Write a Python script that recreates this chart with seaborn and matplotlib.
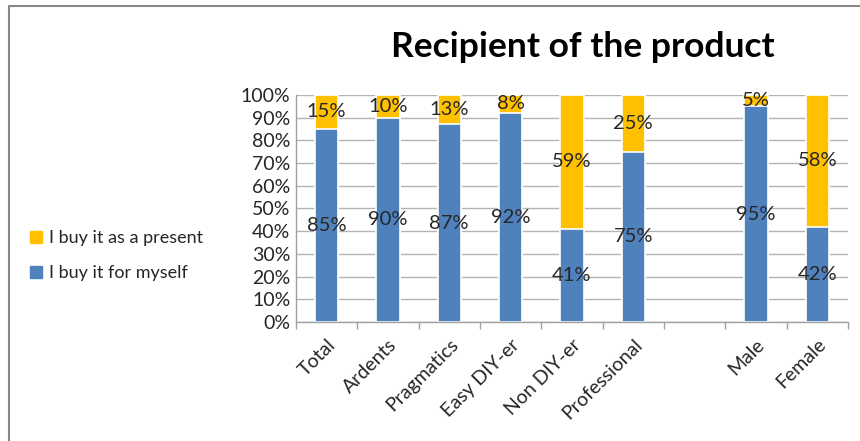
import numpy as np
import pandas as pd
import seaborn as sns
import matplotlib
matplotlib.use('Agg')
from matplotlib import pyplot as plt
from matplotlib.lines import Line2D

# Data
cats = ['Total', 'Ardents', 'Pragmatics', 'Easy DIY-er', 'Non DIY-er', 'Professional', '', 'Male', 'Female']
myself = [85, 90, 87, 92, 41, 75, None, 95, 42]
present = [15, 10, 13, 8, 59, 25, None, 5, 58]
yticks = [0, 10, 20, 30, 40, 50, 60, 70, 80, 90, 100]

blue = '#4F81BD'
yellow = '#FFC000'

df = pd.DataFrame({'cat': cats, 'myself': myself, 'present': present})
df = df[df['cat'] != ''].copy()
df['total'] = df['myself'] + df['present']

sns.set_style('white')
plt.rcParams['font.family'] = ['Lato', 'DejaVu Sans']

fig = plt.figure(figsize=(8.6, 4.41), dpi=100)
ax = fig.add_axes([0.344, 0.270, 0.642, 0.515])

sns.barplot(data=df, x='cat', y='total', order=cats, color=yellow, width=0.38,
            edgecolor='white', linewidth=1.2, saturation=1, ax=ax)
sns.barplot(data=df, x='cat', y='myself', order=cats, color=blue, width=0.38,
            edgecolor='white', linewidth=1.2, saturation=1, ax=ax)

# value labels
for i, c in enumerate(cats):
    if c == '':
        continue
    row = df[df['cat'] == c].iloc[0]
    m, p = row['myself'], row['present']
    ax.text(i, m / 2, '%d%%' % m, ha='center', va='center', fontsize=14.5, color='#262626')
    ax.text(i, m + p / 2, '%d%%' % p, ha='center', va='center', fontsize=14.5, color='#262626')

ax.set_ylim(0, 100)
ax.set_xlim(-0.5, len(cats) - 0.5)
ax.set_yticks(yticks)
ax.set_yticklabels(['%d%%' % v for v in yticks], fontsize=14, color='#262626')
ax.yaxis.grid(True, color='#b3b3b3', linewidth=1)
ax.set_axisbelow(True)
ax.tick_params(axis='y', length=0, pad=4)

ax.set_xticks(range(len(cats)))
ax.set_xticklabels(cats, rotation=45, ha='right', rotation_mode='anchor', fontsize=14, color='#262626')
ax.set_xticks(np.arange(-0.5, len(cats), 1), minor=True)
ax.tick_params(axis='x', which='major', length=0, pad=10)
ax.tick_params(axis='x', which='minor', length=5, color='#a0a0a0', width=1, direction='out', bottom=True)
ax.set_xlabel('')
ax.set_ylabel('')

for s in ['top', 'right']:
    ax.spines[s].set_visible(False)
for s in ['left', 'bottom']:
    ax.spines[s].set_color('#a0a0a0')
    ax.spines[s].set_linewidth(1)

fig.text(0.678, 0.893, 'Recipient of the product', ha='center', va='center',
         fontsize=25.5, fontweight='bold', color='black')

# legend
handles = [Line2D([], [], marker='s', linestyle='', color=yellow, markersize=8),
           Line2D([], [], marker='s', linestyle='', color=blue, markersize=8)]
fig.legend(handles, ['I buy it as a present', 'I buy it for myself'], loc='center left',
           bbox_to_anchor=(0.015, 0.42), frameon=False, fontsize=13, handlelength=0.8,
           handletextpad=0.3, labelspacing=1.05, labelcolor='#262626')

# outer frame (top and left edges only)
fig.add_artist(Line2D([0.011, 1.0], [0.9875, 0.9875], transform=fig.transFigure,
                      color='#888888', linewidth=1.5))
fig.add_artist(Line2D([0.011, 0.011], [0.0, 0.9875], transform=fig.transFigure,
                      color='#888888', linewidth=1.5))

plt.savefig('out.png', dpi=100)
plt.close(fig)
